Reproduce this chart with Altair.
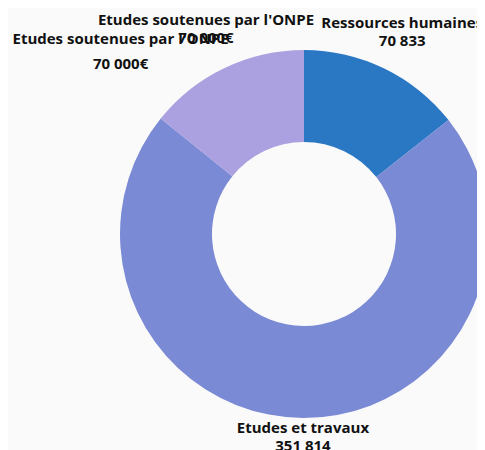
import altair as alt
import pandas as pd
import math

categories = ["Ressources humaines", "Etudes et travaux", "Etudes soutenues par l'ONPE"]
values = [70833, 351814, 70000]
value_labels = ["70 833", "351 814", "70 000€"]
colors = ["#2a77c3", "#7a8ad5", "#aca1e0"]
label_radius = [225, 203, 227]

total = sum(values)
mids = []
acc = 0
for v in values:
    mids.append((acc + v / 2) / total * 2 * math.pi)
    acc += v

df = pd.DataFrame({
    "cat": categories,
    "value": values,
    "order": [0, 1, 2],
})

lab_df = pd.DataFrame({
    "label": [[c, v] for c, v in zip(categories, value_labels)],
    "mid": mids,
    "r": label_radius,
})

# duplicated (overlapping) label seen in the reference
dup_df = pd.DataFrame({
    "label": [["Etudes soutenues par l'ONPE", "70 000€"]],
    "ang": [5.50],
    "r": [260],
})

W, H = 469, 442
CX, CY = 296, 226

arcs = alt.Chart(df).mark_arc(innerRadius=92, outerRadius=184, stroke=None).encode(
    theta=alt.Theta("value:Q", stack=True),
    order=alt.Order("order:Q"),
    color=alt.Color("cat:N", scale=alt.Scale(domain=categories, range=colors), legend=None),
    x=alt.value(CX), y=alt.value(CY),
)

labels = alt.Chart(lab_df).mark_text(
    font="Open Sans", fontWeight="bold", fontSize=15, color="#111111",
    align="center", baseline="middle", lineHeight=18, dy=-9,
).encode(
    text="label",
    theta=alt.Theta("mid:Q", scale=None),
    radius=alt.Radius("r:Q", scale=None),
    x=alt.value(CX), y=alt.value(CY),
)

dup = alt.Chart(dup_df).mark_text(
    font="Open Sans", fontWeight="bold", fontSize=15, color="#111111",
    align="center", baseline="middle", lineHeight=25, dy=-11,
).encode(
    text="label",
    theta=alt.Theta("ang:Q", scale=None),
    radius=alt.Radius("r:Q", scale=None),
    x=alt.value(CX), y=alt.value(CY),
)

chart = alt.layer(arcs, labels, dup).properties(
    width=W, height=H, background="#fafafa", padding=0,
    autosize=alt.AutoSizeParams(type="none"),
).configure_view(stroke=None)

chart.save("out.html", embed_options={"renderer": "svg", "actions": False})
